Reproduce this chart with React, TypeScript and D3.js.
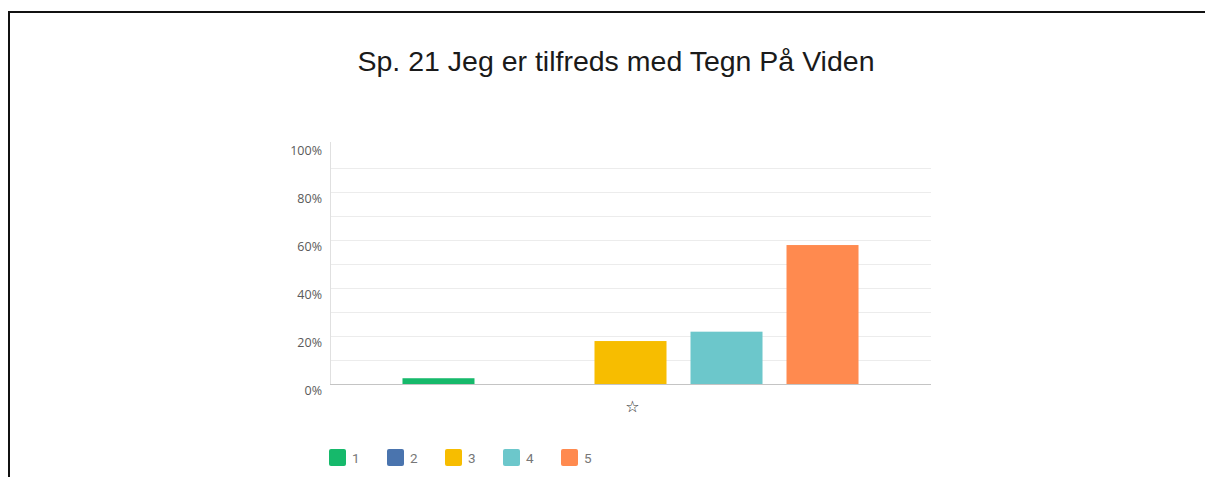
import { useEffect, useRef } from 'react';
import * as d3 from 'd3';

const title = 'Sp. 21 Jeg er tilfreds med Tegn På Viden';
const categories = ['☆'];
const seriesNames = ['1', '2', '3', '4', '5'];
const seriesValues = [2.4, 0, 17.9, 21.8, 57.9];
const seriesColors = ['#16b96b', '#4a74ae', '#f7bd00', '#6cc7cb', '#ff8a4f'];
const yTicks = [0, 20, 40, 60, 80, 100];

export default function App() {
  const svgRef = useRef<SVGSVGElement>(null);

  useEffect(() => {
    if (!svgRef.current) return;
    const svg = d3.select(svgRef.current);
    svg.selectAll('*').remove();

    const width = 1205;
    const height = 477;
    const margin = { top: 144, right: 274, bottom: 93, left: 330 };
    const innerWidth = width - margin.left - margin.right;
    const innerHeight = height - margin.top - margin.bottom;

    // frame (only top and left edges show in the crop)
    svg.append('path')
      .attr('d', `M9,${height} V12 H${width}`)
      .attr('fill', 'none')
      .attr('stroke', '#111')
      .attr('stroke-width', 2);

    svg.append('text')
      .attr('x', 616)
      .attr('y', 71)
      .attr('text-anchor', 'middle')
      .style('font-family', '"Liberation Sans", Arial, sans-serif')
      .style('font-size', '28.5px')
      .style('fill', '#1a1a1a')
      .text(title);

    const g = svg.append('g').attr('transform', `translate(${margin.left},${margin.top})`);

    const x0 = d3.scaleBand().domain(categories).range([0, innerWidth]).paddingOuter(0.126);
    const x1 = d3.scaleBand().domain(seriesNames).range([0, x0.bandwidth()])
      .paddingInner(0.25).paddingOuter(0.125);
    const y = d3.scaleLinear().domain([0, 100]).range([innerHeight, 0]);

    // gridlines every 10%
    g.append('g')
      .selectAll('line')
      .data(d3.range(10, 100, 10))
      .enter().append('line')
      .attr('x1', 0)
      .attr('x2', innerWidth)
      .attr('y1', d => y(d) + 0.5)
      .attr('y2', d => y(d) + 0.5)
      .attr('stroke', '#ececec')
      .attr('stroke-width', 1);

    // y labels sit just below their gridline
    g.append('g')
      .selectAll('text')
      .data(yTicks)
      .enter().append('text')
      .attr('x', -8)
      .attr('y', d => y(d) + 11)
      .attr('text-anchor', 'end')
      .style('font-family', '"Open Sans", "Noto Sans", sans-serif')
      .style('font-size', '12.5px')
      .style('fill', '#5a5a5a')
      .text(d => `${d}%`);

    // bars
    const groups = g.selectAll('.group')
      .data(categories)
      .enter().append('g')
      .attr('transform', d => `translate(${x0(d)},0)`);

    groups.selectAll('rect')
      .data(() => seriesNames.map((s, i) => ({ s, v: seriesValues[i], c: seriesColors[i] })))
      .enter().append('rect')
      .attr('x', d => x1(d.s) || 0)
      .attr('width', x1.bandwidth())
      .attr('y', d => y(d.v))
      .attr('height', d => innerHeight - y(d.v))
      .attr('fill', d => d.c);

    // axis lines
    g.append('line')
      .attr('x1', 0.5).attr('x2', 0.5)
      .attr('y1', -2).attr('y2', innerHeight)
      .attr('stroke', '#e0e0e0');
    g.append('line')
      .attr('x1', 0).attr('x2', innerWidth)
      .attr('y1', innerHeight + 0.5).attr('y2', innerHeight + 0.5)
      .attr('stroke', '#c4c4c4');

    // category label
    g.selectAll('.cat')
      .data(categories)
      .enter().append('text')
      .attr('x', d => (x0(d) || 0) + x0.bandwidth() / 2 + 2)
      .attr('y', innerHeight + 28)
      .attr('text-anchor', 'middle')
      .style('font-family', '"DejaVu Sans", sans-serif')
      .style('font-size', '16px')
      .style('fill', '#333')
      .text(d => d);

    // legend
    const legend = svg.append('g').attr('transform', 'translate(329,449)');
    const item = legend.selectAll('g')
      .data(seriesNames)
      .enter().append('g')
      .attr('transform', (d, i) => `translate(${i * 58},0)`);
    item.append('rect')
      .attr('width', 17)
      .attr('height', 17)
      .attr('rx', 2)
      .attr('fill', (d, i) => seriesColors[i]);
    item.append('text')
      .attr('x', 23)
      .attr('y', 14)
      .style('font-family', 'Roboto, "Noto Sans", sans-serif')
      .style('font-size', '13.5px')
      .style('fill', '#777')
      .text(d => d);
  }, []);

  return (
    <div style={{ position: 'fixed', left: 0, top: 0, width: 1205, height: 477, background: '#fff' }}>
      <svg ref={svgRef} width={1205} height={477}></svg>
    </div>
  );
}
